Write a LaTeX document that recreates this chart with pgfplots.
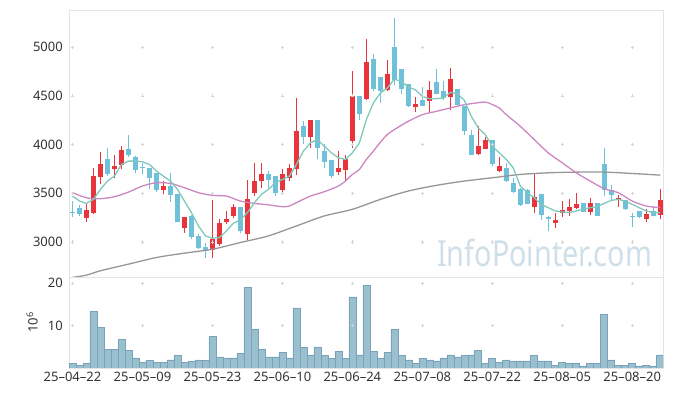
\documentclass[border=0pt]{standalone}
\usepackage{fontspec}
\setmainfont{Noto Sans}
\usepackage{pgfplots}
\usepackage{pgfplotstable}
\pgfplotsset{compat=1.18}
\definecolor{upcol}{RGB}{232,52,58}
\definecolor{dncol}{RGB}{110,193,217}
\definecolor{maf}{RGB}{128,200,190}
\definecolor{mat}{RGB}{204,134,194}
\definecolor{mas}{RGB}{150,150,150}
\definecolor{volfill}{RGB}{154,191,207}
\definecolor{voldraw}{RGB}{120,163,184}
\definecolor{framec}{RGB}{228,228,228}
\definecolor{gridc}{RGB}{212,212,212}
\definecolor{wmc}{RGB}{207,223,233}
\definecolor{textc}{RGB}{51,51,51}
\pgfplotsset{candle/.style={only marks, mark=*, mark size=0pt,
  mark options={draw=none, fill=none},
  error bars/.cd, y dir=plus, y explicit, error mark=none}}

\pgfplotstableread{
i O H L C
2 3243 3390 3205 3325
3 3297 3761 3284 3673
4 3666 3925 3598 3796
6 3744 3894 3659 3785
7 3789 3990 3744 3949
13 3530 3625 3488 3570
16 3140 3255 3096 3253
20 2919 3427 2840 3035
21 2977 3233 2960 3192
22 3202 3315 3181 3236
23 3267 3393 3250 3362
25 3079 3639 3021 3437
26 3502 3806 3471 3622
27 3622 3806 3557 3693
30 3533 3751 3506 3693
31 3652 3796 3625 3755
32 3744 4478 3686 4144
34 4075 4256 3966 4256
38 3717 3932 3683 3755
39 3738 3888 3625 3847
40 4041 4751 3966 4502
42 4471 5082 4454 4850
45 4563 4864 4546 4727
49 4382 4488 4331 4420
51 4444 4655 4335 4563
54 4485 4785 4352 4676
58 3898 4188 3888 3983
59 3959 4079 3959 4051
61 3727 3874 3717 3785
66 3362 3703 3301 3465
69 3192 3301 3147 3222
70 3301 3420 3260 3328
71 3314 3444 3267 3355
72 3352 3506 3335 3386
74 3308 3454 3274 3396
78 3427 3478 3362 3447
82 3233 3342 3205 3284
84 3274 3540 3233 3427
}\upt

\pgfplotstableread{
i O H L C
0 3305 3420 3260 3295
1 3345 3376 3267 3285
5 3847 3966 3676 3693
8 3959 4103 3874 3894
9 3877 3880 3703 3734
10 3765 3813 3693 3758
11 3755 3761 3540 3652
12 3703 3710 3512 3530
14 3570 3710 3413 3482
15 3488 3490 3202 3205
17 3263 3274 3035 3052
18 3059 3086 2925 2939
19 2946 2994 2840 2919
24 3356 3356 3089 3113
28 3693 3727 3557 3639
29 3673 3673 3471 3506
33 4195 4239 4010 4075
35 4256 4256 3853 3963
36 3929 4010 3755 3819
37 3837 3837 3659 3676
41 4502 4502 4249 4318
43 4881 4932 4546 4570
44 4690 4690 4427 4553
46 5007 5297 4614 4666
47 4778 4778 4519 4573
48 4625 4625 4386 4399
50 4461 4587 4393 4399
52 4638 4778 4522 4522
53 4546 4655 4461 4475
55 4573 4573 4403 4403
56 4399 4399 4103 4137
57 4103 4154 3897 3897
60 4051 4051 3778 3796
62 3761 3813 3615 3625
63 3601 3659 3506 3512
64 3540 3557 3369 3379
65 3533 3540 3385 3390
67 3488 3488 3226 3274
68 3260 3267 3113 3233
73 3396 3400 3305 3311
75 3396 3400 3262 3267
76 3796 3966 3471 3533
77 3533 3581 3420 3482
79 3427 3430 3330 3335
80 3270 3301 3158 3265
81 3314 3318 3250 3257
83 3314 3369 3265 3267
}\dnt

\pgfplotstableread{
i v
0 1.0
1 0.7
2 1.0
3 13.4
4 9.6
5 4.3
6 4.3
7 6.7
8 4.1
9 2.4
10 1.3
11 1.8
12 1.3
13 1.3
14 1.9
15 2.9
16 1.3
17 1.5
18 1.9
19 1.8
20 7.4
21 2.6
22 2.4
23 2.4
24 3.4
25 19.0
26 9.1
27 4.3
28 2.6
29 2.6
30 3.6
31 2.4
32 14.2
33 4.8
34 3.1
35 5.0
36 2.9
37 2.2
38 3.9
39 2.2
40 16.8
41 3.1
42 19.5
43 3.9
44 2.4
45 3.6
46 9.1
47 2.9
48 1.9
49 1.0
50 2.2
51 1.9
52 1.7
53 2.4
54 3.1
55 2.6
56 2.9
57 3.1
58 4.1
59 1.0
60 2.2
61 1.4
62 1.9
63 1.7
64 1.7
65 1.7
66 2.9
67 1.7
68 1.7
69 0.7
70 1.4
71 1.0
72 1.2
73 0.5
74 1.0
75 1.0
76 12.7
77 1.9
78 0.7
79 0.7
80 1.0
81 0.5
82 0.7
83 0.5
84 3.1
}\volt

\begin{document}
\begin{tikzpicture}
\useasboundingbox (0,0) rectangle (673pt,396pt);
\node[anchor=base west, inner sep=0pt, xscale=0.8, text=wmc] at (437pt,129pt)
  {\fontsize{36}{40}\selectfont InfoPointer.com};

\begin{axis}[
  at={(69pt,119pt)}, anchor=south west, scale only axis,
  width=594pt, height=267pt,
  xmin=-0.5, xmax=84.4, ymin=2640, ymax=5382,
  xtick=\empty, ytick={3000,3500,4000,4500,5000},
  major tick length=0pt,
  axis line style={draw=framec, line width=0.8pt},
  tick label style={font=\fontsize{13}{15}\selectfont, text=textc},
  yticklabel style={anchor=east, inner sep=0pt, xshift=-6pt},
  /pgf/number format/assume math mode=true,
  /pgf/number format/1000 sep={},
]
\addplot[only marks, mark=+, mark size=1.6pt, color=gridc] coordinates {
(0,3000)(10,3000)(20,3000)(30,3000)(40,3000)(50,3000)(60,3000)(70,3000)(80,3000)
(0,3500)(10,3500)(20,3500)(30,3500)(40,3500)(50,3500)(60,3500)(70,3500)(80,3500)
(0,4000)(10,4000)(20,4000)(30,4000)(40,4000)(50,4000)(60,4000)(70,4000)(80,4000)
(0,4500)(10,4500)(20,4500)(30,4500)(40,4500)(50,4500)(60,4500)(70,4500)(80,4500)
(0,5000)(10,5000)(20,5000)(30,5000)(40,5000)(50,5000)(60,5000)(70,5000)(80,5000)};
% wicks
\addplot[candle, error bar style={line width=1.1pt, draw=upcol}]
  table[x=i, y=L, y error expr=\thisrow{H}-\thisrow{L}] {\upt};
\addplot[candle, error bar style={line width=1.1pt, draw=dncol}]
  table[x=i, y=L, y error expr=\thisrow{H}-\thisrow{L}] {\dnt};
% bodies
\addplot[candle, error bar style={line width=5.2pt, draw=upcol}]
  table[x=i, y=O, y error expr=\thisrow{C}-\thisrow{O}] {\upt};
\addplot[candle, error bar style={line width=5.2pt, draw=dncol}]
  table[x=i, y=C, y error expr=\thisrow{O}-\thisrow{C}] {\dnt};
% moving averages
\addplot[mas, line width=1.3pt, smooth] coordinates {
(0,2636)(2,2659)(4,2704)(8,2772)(12,2840)(16,2885)(20,2925)(24,2994)(28,3062)
(32,3164)(36,3267)(40,3335)(44,3437)(48,3523)(52,3581)(56,3625)(60,3659)(64,3693)
(68,3710)(72,3717)(76,3717)(80,3703)(84,3686)};
\addplot[mat, line width=1.3pt, smooth] coordinates {
(0,3506)(2,3454)(4,3444)(6,3465)(8,3512)(10,3574)(12,3608)(14,3601)(16,3557)(18,3506)
(20,3478)(22,3471)(24,3420)(26,3396)(28,3381)(30,3362)(31,3369)(32,3403)(34,3471)
(36,3516)(38,3574)(39,3625)(40,3693)(41,3744)(42,3847)(43,3932)(44,4024)(45,4103)
(46,4154)(48,4239)(50,4307)(52,4341)(54,4376)(56,4410)(57,4420)(59,4437)(60,4410)
(61,4376)(62,4307)(64,4188)(66,4051)(68,3915)(70,3813)(72,3710)(74,3625)(76,3547)
(78,3506)(80,3420)(82,3369)(84,3352)};
\addplot[maf, line width=1.3pt] coordinates {
(0,3471)(1,3420)(2,3396)(3,3437)(4,3540)(5,3625)(6,3676)(7,3796)(8,3830)(9,3830)
(10,3823)(11,3796)(12,3727)(13,3676)(14,3625)(15,3540)(16,3420)(17,3301)(18,3164)
(19,3062)(20,3038)(21,3045)(22,3113)(23,3192)(24,3226)(25,3301)(26,3403)(27,3488)
(28,3540)(29,3608)(30,3642)(31,3676)(32,3796)(33,3932)(34,4017)(35,4051)(36,3983)
(37,3915)(38,3864)(39,3847)(40,3915)(41,4017)(42,4256)(43,4427)(44,4529)(45,4580)
(46,4672)(47,4649)(48,4591)(49,4563)(50,4495)(51,4471)(52,4471)(53,4478)(54,4536)
(55,4522)(56,4455)(57,4290)(58,4171)(59,4103)(60,3983)(61,3915)(62,3847)(63,3761)
(64,3574)(65,3506)(66,3454)(67,3386)(68,3352)(69,3318)(70,3308)(71,3301)(72,3318)
(73,3335)(74,3352)(75,3362)(76,3396)(77,3427)(78,3437)(79,3420)(80,3386)(81,3352)
(82,3318)(83,3301)(84,3301)};
\end{axis}

\begin{axis}[
  at={(69pt,28pt)}, anchor=south west, scale only axis,
  width=594pt, height=91pt,
  xmin=-0.5, xmax=84.4, ymin=0, ymax=21.5,
  xtick={0,10,20,30,40,50,60,70,80},
  xticklabels={25--04--22,25--05--09,25--05--23,25--06--10,25--06--24,25--07--08,25--07--22,25--08--05,25--08--20},
  ytick={10,20},
  major tick length=0pt,
  axis line style={draw=framec, line width=0.8pt},
  tick label style={font=\fontsize{13}{15}\selectfont, text=textc},
  yticklabel style={anchor=east, inner sep=0pt, xshift=-6pt},
  xticklabel style={anchor=north, inner sep=0pt, yshift=-4pt},
  /pgf/number format/assume math mode=true,
  ylabel={10\textsuperscript{6}},
  ylabel style={at={(axis description cs:-0.062,0.5)}, anchor=center,
    font=\fontsize{13}{15}\selectfont, text=textc},
]
\addplot[only marks, mark=+, mark size=1.6pt, color=gridc] coordinates {
(0,10)(10,10)(20,10)(30,10)(40,10)(50,10)(60,10)(70,10)(80,10)
(0,20)(10,20)(20,20)(30,20)(40,20)(50,20)(60,20)(70,20)(80,20)};
\addplot[ybar, bar width=1, fill=volfill, draw=voldraw, line width=0.6pt]
  table[x=i, y=v] {\volt};
\end{axis}
\end{tikzpicture}
\end{document}
